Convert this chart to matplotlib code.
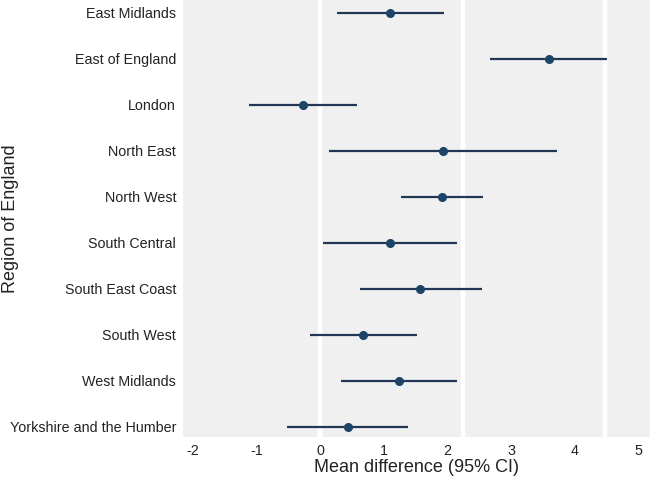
import matplotlib
matplotlib.use("Agg")
import matplotlib.pyplot as plt

regions = ["East Midlands", "East of England", "London", "North East", "North West",
           "South Central", "South East Coast", "South West", "West Midlands",
           "Yorkshire and the Humber"]
mean_diff = [1.10, 3.59, -0.27, 1.93, 1.91, 1.09, 1.57, 0.67, 1.23, 0.43]
ci_low = [0.26, 2.67, -1.12, 0.14, 1.26, 0.04, 0.62, -0.16, 0.32, -0.52]
ci_high = [1.95, 4.50, 0.58, 3.72, 2.55, 2.14, 2.54, 1.51, 2.15, 1.38]
x_ticks = [-2, -1, 0, 1, 2, 3, 4, 5]
grid_lines = [0, 2.24, 4.47]

plt.rcParams['font.family'] = ['Liberation Sans', 'DejaVu Sans']

fig = plt.figure(figsize=(6.5, 4.86), dpi=100)
ax = fig.add_axes([183/650, 1 - 437/486, (650-183)/650, 437/486])
ax.set_facecolor('#f0f0f0')
for g in grid_lines:
    ax.axvline(g, color='white', lw=3.2, zorder=1)

ypos = list(range(len(regions)))
ax.hlines(ypos, ci_low, ci_high, color='#223655', lw=1.6, zorder=2)
ax.plot(mean_diff, ypos, 'o', color='#1c4466', ms=5.5, zorder=3)

ax.set_ylim(len(regions) - 1 + 0.22, -0.28)
ax.set_xlim(-2.16, 5.18)
ax.set_yticks(ypos)
ax.set_yticklabels(regions, fontsize=10.3, color='#222222')
ax.set_xticks(x_ticks)
ax.set_xticklabels([str(t) for t in x_ticks], fontsize=10.3, color='#222222')
ax.tick_params(length=0, pad=5)
for s in ax.spines.values():
    s.set_visible(False)
ax.set_xlabel("Mean difference (95% CI)", fontsize=13, color='#222222', labelpad=1)
ax.set_ylabel("Region of England", fontsize=13, color='#222222')
ax.yaxis.set_label_coords(-0.37, 0.5)
ax.yaxis.label.set_verticalalignment('center')

fig.savefig("out.png", dpi=100)
